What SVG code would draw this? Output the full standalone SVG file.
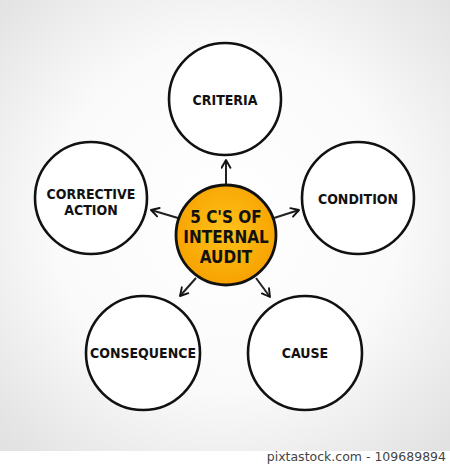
<svg xmlns="http://www.w3.org/2000/svg" width="450" height="469" viewBox="0 0 450 469">
<defs>
<radialGradient id="bg" cx="50%" cy="48%" r="70%">
<stop offset="0" stop-color="#ffffff"/>
<stop offset="0.55" stop-color="#fafafa"/>
<stop offset="1" stop-color="#e2e2e2"/>
</radialGradient>
<radialGradient id="og" cx="50%" cy="45%" r="55%">
<stop offset="0" stop-color="#ffc21a"/>
<stop offset="1" stop-color="#f7a200"/>
</radialGradient>
<marker id="ah" viewBox="0 0 10 10" refX="8" refY="5" markerWidth="11" markerHeight="11" markerUnits="userSpaceOnUse" orient="auto">
<path d="M1,1 L8,5 L1,9" fill="none" stroke="#111" stroke-width="1.7" stroke-linecap="round" stroke-linejoin="round"/>
</marker>
</defs>
<style>
.node{fill:#fff;stroke:#111;stroke-width:2.6}
.lbl{font-family:"DejaVu Sans",sans-serif;font-weight:bold;font-stretch:condensed;font-size:14px;fill:#111;text-anchor:middle}
.ctr{font-family:"DejaVu Sans",sans-serif;font-weight:bold;font-stretch:condensed;font-size:17px;fill:#111;text-anchor:middle}
.con{stroke:#222;stroke-width:2;fill:none;marker-end:url(#ah)}
</style>
<rect x="0" y="0" width="450" height="469" fill="#fff"/>
<rect x="0" y="0" width="450" height="451" fill="url(#bg)"/>
<text x="446" y="461" font-family="'DejaVu Sans',sans-serif" font-size="12.5" fill="#444" text-anchor="end">pixtastock.com - 109689894</text>
<g id="connectors">
<line class="con" x1="226" y1="184" x2="226" y2="160"/>
<line class="con" x1="178" y1="218" x2="151" y2="210"/>
<line class="con" x1="274" y1="218" x2="299" y2="210"/>
<line class="con" x1="196" y1="278" x2="180" y2="296"/>
<line class="con" x1="256" y1="278" x2="270" y2="297"/>
</g>
<g id="center">
<circle cx="226" cy="235" r="50" fill="url(#og)" stroke="#111" stroke-width="2.8"/>
<text class="ctr" x="226" y="223">5 C'S OF</text>
<text class="ctr" x="226" y="243">INTERNAL</text>
<text class="ctr" x="226" y="263">AUDIT</text>
</g>
<g id="criteria">
<circle class="node" cx="225" cy="99" r="56"/>
<text class="lbl" x="225" y="105">CRITERIA</text>
</g>
<g id="condition">
<circle class="node" cx="358" cy="198" r="56"/>
<text class="lbl" x="358" y="204">CONDITION</text>
</g>
<g id="corrective">
<circle class="node" cx="91" cy="198" r="56"/>
<text class="lbl" x="91" y="199">CORRECTIVE</text>
<text class="lbl" x="91" y="215">ACTION</text>
</g>
<g id="consequence">
<circle class="node" cx="143" cy="353" r="57"/>
<text class="lbl" x="143" y="358">CONSEQUENCE</text>
</g>
<g id="cause">
<circle class="node" cx="305" cy="353" r="57"/>
<text class="lbl" x="305" y="358">CAUSE</text>
</g>
</svg>
